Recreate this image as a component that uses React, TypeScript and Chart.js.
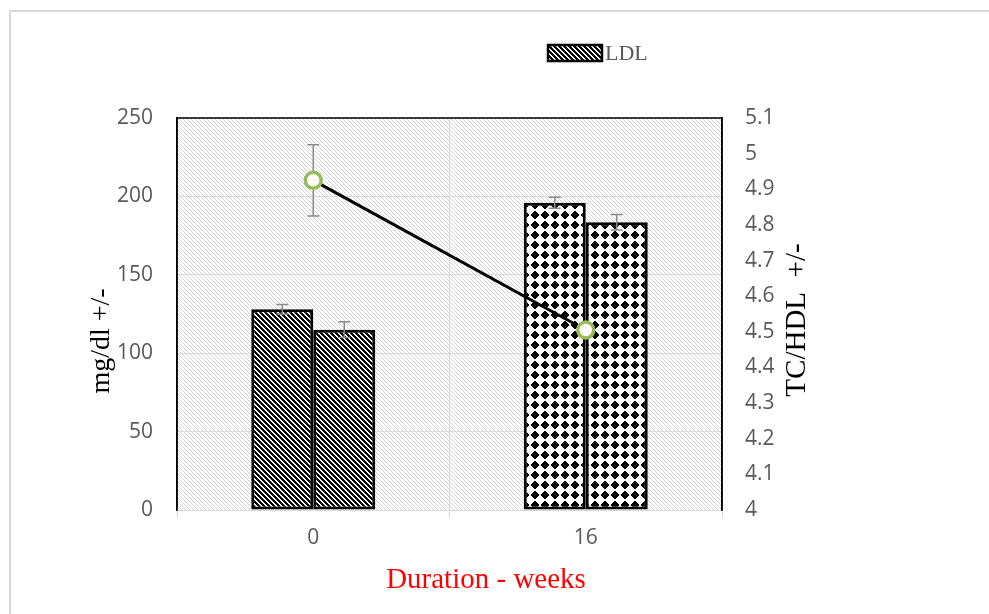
import React, { useEffect, useRef } from 'react';
import { Chart, registerables } from 'chart.js';

Chart.register(...registerables);

// ---- data ----
const categories = ['0', '16'];
const ldlValues = [128, 196];
const ldlErrors = [3, 3.5];
const secondValues = [115, 183.5];
const secondErrors = [5, 5];
const ratioValues = [4.925, 4.505];
const ratioErrors = [0.1, 0];
const leftTickLabels = ['0', '50', '100', '150', '200', '250'];
const rightTickLabels = ['4', '4.1', '4.2', '4.3', '4.4', '4.5', '4.6', '4.7', '4.8', '4.9', '5', '5.1'];

const TICK_FONT = { family: '"Open Sans", "Noto Sans", sans-serif', size: 21 };
const TICK_COLOR = '#595959';
const SERIF = '"Liberation Serif", "Times New Roman", serif';

function makePixelTile(size: number, pick: (x: number, y: number) => string) {
  const c = document.createElement('canvas');
  c.width = size;
  c.height = size;
  const g = c.getContext('2d') as CanvasRenderingContext2D;
  for (let y = 0; y < size; y++) {
    for (let x = 0; x < size; x++) {
      g.fillStyle = pick(x, y);
      g.fillRect(x, y, 1, 1);
    }
  }
  return c;
}

export default function App() {
  const ref = useRef<HTMLCanvasElement | null>(null);

  useEffect(() => {
    const canvas = ref.current;
    if (!canvas) return;
    const ctx = canvas.getContext('2d') as CanvasRenderingContext2D;

    const bgTile = makePixelTile(4, (x, y) => (((x - y) % 4 + 4) % 4 === 0 ? '#d4d4d4' : '#ffffff'));
    const diagTile = makePixelTile(5, (x, y) => (((x - y) % 5 + 5) % 5 < 2 ? '#ffffff' : '#000000'));
    const checkTile = makePixelTile(10, (x, y) => {
      const dx = Math.abs(x + 0.5 - 5);
      const dy = Math.abs(y + 0.5 - 5);
      return dx + dy < 5 ? '#000000' : '#ffffff';
    });
    const bgPattern = ctx.createPattern(bgTile, 'repeat') as CanvasPattern;
    const diagPattern = ctx.createPattern(diagTile, 'repeat') as CanvasPattern;
    const checkPattern = ctx.createPattern(checkTile, 'repeat') as CanvasPattern;

    const drawErr = (chart: any, dsIndex: number, values: number[], errs: number[], axis: string) => {
      const meta = chart.getDatasetMeta(dsIndex);
      const scale = chart.scales[axis];
      const c = chart.ctx as CanvasRenderingContext2D;
      c.save();
      c.strokeStyle = '#8c8c8c';
      c.lineWidth = 1.5;
      meta.data.forEach((el: any, j: number) => {
        const e = errs[j];
        if (!e) return;
        const x = el.x;
        const yTop = scale.getPixelForValue(values[j] + e);
        const yBot = scale.getPixelForValue(values[j] - e);
        const hw = 6;
        c.beginPath();
        c.moveTo(x, yTop);
        c.lineTo(x, yBot);
        c.moveTo(x - hw, yTop);
        c.lineTo(x + hw, yTop);
        c.moveTo(x - hw, yBot);
        c.lineTo(x + hw, yBot);
        c.stroke();
      });
      c.restore();
    };

    const decorPlugin = {
      id: 'decor',
      beforeDraw(chart: any) {
        const c = chart.ctx as CanvasRenderingContext2D;
        const a = chart.chartArea;
        c.save();
        c.fillStyle = '#ffffff';
        c.fillRect(0, 0, chart.width, chart.height);
        // outer frame
        c.strokeStyle = '#d9d9d9';
        c.lineWidth = 2;
        c.beginPath();
        c.moveTo(10, chart.height + 5);
        c.lineTo(10, 11);
        c.lineTo(chart.width + 5, 11);
        c.stroke();
        // plot background hatch
        c.fillStyle = bgPattern;
        c.fillRect(a.left, a.top, a.right - a.left, a.bottom - a.top);
        c.restore();
      },
      beforeDatasetDraw(chart: any, args: any) {
        if (args.index === 0) drawErr(chart, 0, ratioValues, ratioErrors, 'y1');
      },
      afterDatasetDraw(chart: any, args: any) {
        if (args.index === 1) drawErr(chart, 1, ldlValues, ldlErrors, 'y');
        if (args.index === 2) drawErr(chart, 2, secondValues, secondErrors, 'y');
      },
      afterDraw(chart: any) {
        const c = chart.ctx as CanvasRenderingContext2D;
        const a = chart.chartArea;
        c.save();
        // plot border: left, top, right
        c.strokeStyle = '#000000';
        c.lineWidth = 1.5;
        c.beginPath();
        c.moveTo(a.left, a.bottom);
        c.lineTo(a.left, a.top);
        c.lineTo(a.right, a.top);
        c.lineTo(a.right, a.bottom);
        c.stroke();

        // legend
        c.fillStyle = diagPattern;
        c.fillRect(548, 45, 54, 16);
        c.strokeStyle = '#000000';
        c.lineWidth = 2.5;
        c.strokeRect(548, 45, 54, 16);
        c.fillStyle = '#595959';
        c.font = `22px ${SERIF}`;
        c.textAlign = 'left';
        c.textBaseline = 'middle';
        c.fillText('LDL', 605, 54);

        // axis titles
        c.font = `28px ${SERIF}`;
        c.textAlign = 'center';
        c.textBaseline = 'middle';
        c.fillStyle = '#000000';
        c.save();
        c.translate(102, 341);
        c.rotate(-Math.PI / 2);
        c.fillText('mg/dl +/-', 0, 0);
        c.restore();
        c.save();
        c.translate(797, 320);
        c.rotate(-Math.PI / 2);
        c.font = `29px ${SERIF}`;
        c.fillText('TC/HDL  +/-', 0, 0);
        c.restore();
        c.font = `29px ${SERIF}`;
        c.fillStyle = '#ff0000';
        c.fillText('Duration - weeks', 486, 580);
        c.restore();
      },
    };

    const chart = new Chart(canvas, {
      type: 'bar',
      data: {
        labels: categories,
        datasets: [
          {
            type: 'line',
            label: 'TC/HDL',
            data: ratioValues,
            yAxisID: 'y1',
            borderColor: '#000000',
            borderWidth: 3,
            pointRadius: 8,
            pointHoverRadius: 8,
            pointBackgroundColor: '#ffffff',
            pointBorderColor: '#9bbb59',
            pointBorderWidth: 3.5,
            fill: false,
            tension: 0,
            order: 0,
          } as any,
          {
            label: 'LDL',
            data: ldlValues,
            yAxisID: 'y',
            backgroundColor: [diagPattern, checkPattern],
            borderColor: '#000000',
            borderWidth: 3,
            borderSkipped: false,
            barPercentage: 1,
            categoryPercentage: 0.455,
            order: 1,
          } as any,
          {
            label: 'TC',
            data: secondValues,
            yAxisID: 'y',
            backgroundColor: [diagPattern, checkPattern],
            borderColor: '#000000',
            borderWidth: 3,
            borderSkipped: false,
            barPercentage: 1,
            categoryPercentage: 0.455,
            order: 1,
          } as any,
        ],
      },
      options: {
        responsive: false,
        animation: false,
        events: [],
        layout: { padding: { left: 60, right: 147, top: 118, bottom: 0 } },
        plugins: {
          legend: { display: false },
          tooltip: { enabled: false },
        },
        scales: {
          x: {
            offset: true,
            grid: { color: '#d9d9d9', offset: true, tickLength: 8, lineWidth: 1 },
            border: { color: '#d9d9d9', width: 1 },
            ticks: { color: TICK_COLOR, font: TICK_FONT, padding: 7 },
            afterFit: (s: any) => {
              s.height = 104;
            },
          },
          y: {
            position: 'left',
            min: 0,
            max: 250,
            ticks: {
              stepSize: 50,
              color: TICK_COLOR,
              font: TICK_FONT,
              padding: 24,
              callback: (_v: any, i: number) => leftTickLabels[i],
            },
            grid: { color: '#d9d9d9', drawTicks: false, lineWidth: 1 },
            border: { color: '#000000', width: 1.5 },
            afterFit: (s: any) => {
              s.width = 117;
            },
          },
          y1: {
            position: 'right',
            min: 4,
            max: 5.1,
            ticks: {
              stepSize: 0.1,
              color: TICK_COLOR,
              font: TICK_FONT,
              padding: 23,
              callback: (_v: any, i: number) => rightTickLabels[i],
            },
            grid: { display: false, drawTicks: false },
            border: { color: '#000000', width: 1.5 },
            afterFit: (s: any) => {
              s.width = 120;
            },
          },
        },
      } as any,
      plugins: [decorPlugin],
    });

    return () => chart.destroy();
  }, []);

  return (
    <div style={{ position: 'fixed', left: 0, top: 0, width: 989, height: 614, background: '#fff' }}>
      <canvas ref={ref} width={989} height={614} style={{ display: 'block' }} />
    </div>
  );
}
